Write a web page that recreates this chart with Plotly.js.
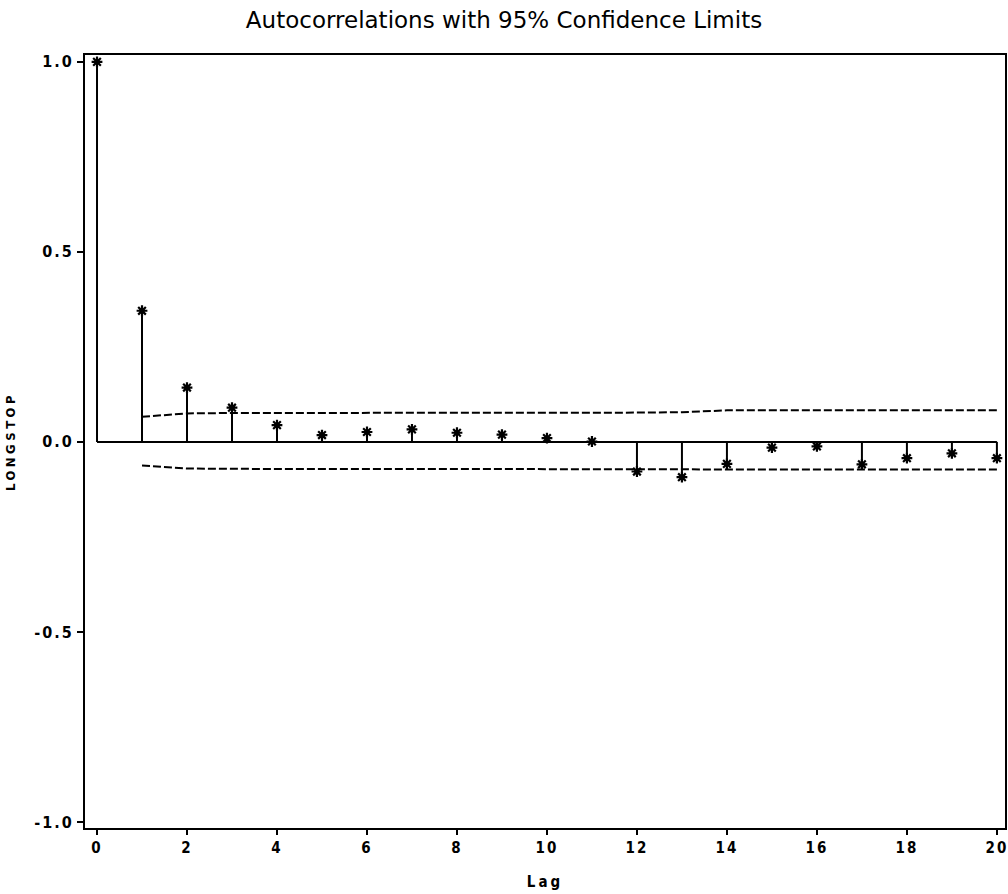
<!DOCTYPE html>
<html>
<head>
<meta charset="utf-8">
<script src="https://cdn.plot.ly/plotly-3.0.1.min.js"></script>
<style>
  html, body { margin: 0; padding: 0; background: #fff; }
  #chart { width: 1008px; height: 894px; }
  .ytick text { letter-spacing: 2px; }
  .xtick text { letter-spacing: 2px; }
  .ytitle { letter-spacing: 3.5px; }
  .xtitle { letter-spacing: 3px; }
</style>
</head>
<body>
<div id="chart"></div>
<script>
// Lags and autocorrelations of LONGSTOP
const lags = [0,1,2,3,4,5,6,7,8,9,10,11,12,13,14,15,16,17,18,19,20];
const acf  = [1.000, 0.345, 0.143, 0.090, 0.044, 0.018, 0.026, 0.033, 0.024, 0.019,
              0.010, 0.001, -0.078, -0.093, -0.058, -0.015, -0.012, -0.059, -0.043, -0.030, -0.043];

// 95% confidence limits (lags 1..20)
const limitLags = [1,2,3,4,5,6,7,8,9,10,11,12,13,14,15,16,17,18,19,20];
const upperLimit = [0.066, 0.075, 0.076, 0.076, 0.076, 0.076, 0.076, 0.076, 0.077, 0.077,
                    0.077, 0.077, 0.078, 0.083, 0.083, 0.083, 0.083, 0.083, 0.083, 0.083];
const lowerLimit = [-0.062, -0.070, -0.071, -0.071, -0.071, -0.071, -0.071, -0.071, -0.072, -0.072,
                    -0.072, -0.072, -0.072, -0.073, -0.073, -0.073, -0.073, -0.073, -0.073, -0.073];

// Axis ticks
const xTickVals = [0,2,4,6,8,10,12,14,16,18,20];
const yTickVals = [-1, -0.5, 0, 0.5, 1];
const yTickText = ["-1.0", "-0.5", "0.0", "0.5", "1.0"];

// Build stems from the data
const stemX = [], stemY = [];
lags.forEach((l, i) => { stemX.push(l, l, null); stemY.push(0, acf[i], null); });

const traces = [
  { x: [lags[0], lags[lags.length-1]], y: [0, 0], mode: 'lines',
    line: { color: '#000', width: 2 }, hoverinfo: 'skip', showlegend: false },
  { x: stemX, y: stemY, mode: 'lines',
    line: { color: '#000', width: 2 }, hoverinfo: 'skip', showlegend: false },
  { x: lags, y: acf, mode: 'markers',
    marker: { symbol: 'asterisk-open', size: 9, color: '#000', line: { color: '#000', width: 2.2 } },
    showlegend: false },
  { x: limitLags, y: upperLimit, mode: 'lines',
    line: { color: '#000', width: 2, dash: '8px,3px' }, showlegend: false },
  { x: limitLags, y: lowerLimit, mode: 'lines',
    line: { color: '#000', width: 2, dash: '8px,3px' }, showlegend: false }
];

const axisFont = { family: 'DejaVu Sans Condensed, DejaVu Sans, sans-serif', size: 16, color: '#000', weight: 'bold' };

const layout = {
  width: 1008, height: 894,
  margin: { l: 85, r: 3, t: 55, b: 66 },
  paper_bgcolor: '#fff', plot_bgcolor: '#fff',
  showlegend: false,
  title: {
    text: 'Autocorrelations with 95% Confidence Limits',
    font: { family: 'DejaVu Sans, sans-serif', size: 23, color: '#000' },
    x: 0.5, xref: 'container', xanchor: 'center',
    y: 1 - 20/894, yref: 'container', yanchor: 'middle'
  },
  xaxis: {
    range: [-0.267, 20.18],
    tickvals: xTickVals,
    ticks: 'outside', ticklen: 5, tickwidth: 2, tickcolor: '#000',
    showline: true, linewidth: 2, linecolor: '#000', mirror: true,
    showgrid: false, zeroline: false,
    tickfont: Object.assign({}, axisFont, { size: 15 }),
    ticklabeloverflow: 'allow',
    title: { text: 'Lag', font: Object.assign({}, axisFont, { size: 15 }), standoff: 20 },
    automargin: false
  },
  yaxis: {
    range: [-1.016, 1.018],
    tickvals: yTickVals, ticktext: yTickText,
    ticks: 'outside', ticklen: 6, tickwidth: 2, tickcolor: '#000',
    showline: true, linewidth: 2, linecolor: '#000', mirror: true,
    showgrid: false, zeroline: false,
    tickfont: axisFont,
    ticklabeloverflow: 'allow',
    title: { text: 'LONGSTOP', font: Object.assign({}, axisFont, { size: 13 }), standoff: 16 },
    automargin: false
  }
};

Plotly.newPlot('chart', traces, layout, { displayModeBar: false, staticPlot: true });
</script>
</body>
</html>
